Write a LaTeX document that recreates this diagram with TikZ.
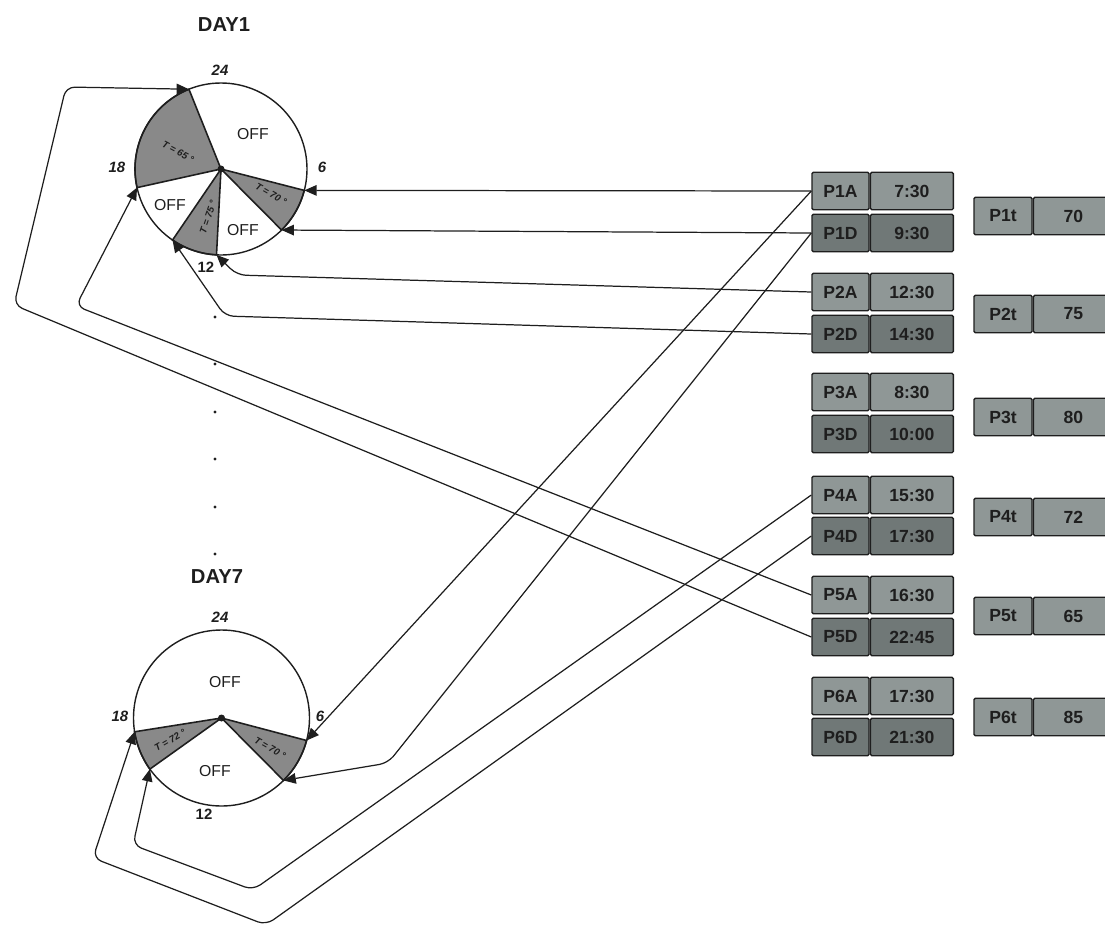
\documentclass[tikz,border=0pt]{standalone}
\usepackage{fontspec}
\setmainfont{Liberation Sans}
\setsansfont{Liberation Sans}
\usetikzlibrary{arrows.meta,positioning}

\definecolor{boxlight}{RGB}{143,151,150}
\definecolor{boxdark}{RGB}{112,120,119}
\definecolor{sectorgray}{RGB}{137,137,137}
\definecolor{inkgray}{RGB}{30,30,30}

\begin{document}
\begin{tikzpicture}[x=0.02cm, y=0.02cm,
                    every node/.style={font=\sffamily, text=inkgray},
                    cell/.style={draw=inkgray, line width=0.8pt, rounded corners=0.8pt, minimum height=0.75cm,
                                 inner sep=0pt, font=\sffamily\bfseries\fontsize{10}{12}\selectfont},
                    aname/.style={cell, fill=boxlight, minimum width=1.14cm},
                    atime/.style={cell, fill=boxlight, minimum width=1.66cm},
                    dname/.style={cell, fill=boxdark, minimum width=1.14cm},
                    dtime/.style={cell, fill=boxdark, minimum width=1.66cm},
                    tname/.style={cell, fill=boxlight, minimum width=1.16cm},
                    tval/.style={cell, fill=boxlight, minimum width=1.6cm},
                    dial/.style={draw=inkgray, line width=0.8pt},
                    sector/.style={draw=inkgray, line width=0.9pt, fill=sectorgray},
                    daytitle/.style={font=\sffamily\bfseries\fontsize{11.5}{14}\selectfont},
                    hour/.style={font=\sffamily\bfseries\itshape\fontsize{8.5}{10}\selectfont, inner sep=0pt},
                    hourup/.style={font=\sffamily\bfseries\fontsize{8.5}{10}\selectfont, inner sep=0pt},
                    offlbl/.style={font=\sffamily\fontsize{9}{11}\selectfont},
                    templbl/.style={font=\sffamily\bfseries\itshape\fontsize{5.5}{6}\selectfont, inner sep=0pt},
                    arr/.style={draw=inkgray, line width=0.7pt, rounded corners=5pt,
                                -{Triangle[length=7pt,width=6pt]}}]

    \useasboundingbox (0,0) rectangle (1105,-927);

    % Day 1 dial
    \coordinate (c1) at (221,-169);
    \node[daytitle] (day1) at (224,-25) {DAY1};
    \filldraw[sector] (c1) -- +(111.9:86) arc[start angle=111.9, end angle=192.5, radius=86] -- cycle; % P5
    \filldraw[sector] (c1) -- +(-14.4:86) arc[start angle=-14.4, end angle=-45.2, radius=86] -- cycle; % P1
    \filldraw[sector] (c1) -- +(-93:86) arc[start angle=-93, end angle=-124.3, radius=86] -- cycle; % P2
    \draw[dial] (c1) circle[radius=86];
    \fill[inkgray] (c1) circle[radius=3.5];
    \path (c1) ++(-14.4:86) coordinate (d1a);
    \path (c1) ++(-45.2:86) coordinate (d1b);
    \path (c1) ++(-93:86) coordinate (d1c);
    \path (c1) ++(-124.3:86) coordinate (d1d);
    \path (c1) ++(192.5:86) coordinate (d1e);
    \path (c1) ++(111.9:86) coordinate (d1f);

    \node[hour] (h1top) at (220,-70) {24};
    \node[hour] (h1right) at (322,-167) {6};
    \node[hour] (h1left) at (117,-167) {18};
    \node[hourup] (h1bot) at (206,-267) {12};
    \node[offlbl] (off1a) at (253,-134) {OFF};
    \node[offlbl] (off1b) at (170,-205) {OFF};
    \node[offlbl] (off1c) at (243,-230) {OFF};
    \node[templbl, rotate=-28] (t1a) at (178,-152) {T = 65 °};
    \node[templbl, rotate=-30] (t1b) at (271,-194) {T = 70 °};
    \node[templbl, rotate=71] (t1c) at (208,-217) {T = 75 °};

    % days in between
    \foreach \y in {317,364,412,459,507,554}
        \fill[inkgray] (215,-\y) circle[radius=1.6];

    % Day 7 dial
    \coordinate (c7) at (221.5,-718);
    \node[daytitle] (day7) at (217,-577) {DAY7};
    \filldraw[sector] (c7) -- +(189:88) arc[start angle=189, end angle=215.5, radius=88] -- cycle; % P4
    \filldraw[sector] (c7) -- +(-14.8:88) arc[start angle=-14.8, end angle=-45.2, radius=88] -- cycle; % P1
    \draw[dial] (c7) circle[radius=88];
    \fill[inkgray] (c7) circle[radius=3.5];
    \path (c7) ++(-14.8:88) coordinate (d7a);
    \path (c7) ++(-45.2:88) coordinate (d7b);
    \path (c7) ++(215.5:88) coordinate (d7c);
    \path (c7) ++(189:88) coordinate (d7d);

    \node[hour] (h7top) at (220,-617) {24};
    \node[hour] (h7right) at (320,-716) {6};
    \node[hour] (h7left) at (120,-716) {18};
    \node[hourup] (h7bot) at (204,-814) {12};
    \node[offlbl] (off7a) at (225,-682) {OFF};
    \node[offlbl] (off7b) at (215,-771) {OFF};
    \node[templbl, rotate=30] (t7a) at (170,-740) {T = 72 °};
    \node[templbl, rotate=-30] (t7b) at (270,-748) {T = 70 °};

    % arrival / departure times
    \node[aname] (p1a) at (840.5,-191) {P1A};
    \node[atime, right=0pt of p1a] (p1at) {7:30};
    \node[dname] (p1d) at (840.5,-233) {P1D};
    \node[dtime, right=0pt of p1d] (p1dt) {9:30};
    \node[aname] (p2a) at (840.5,-292) {P2A};
    \node[atime, right=0pt of p2a] (p2at) {12:30};
    \node[dname] (p2d) at (840.5,-334) {P2D};
    \node[dtime, right=0pt of p2d] (p2dt) {14:30};
    \node[aname] (p3a) at (840.5,-392) {P3A};
    \node[atime, right=0pt of p3a] (p3at) {8:30};
    \node[dname] (p3d) at (840.5,-434) {P3D};
    \node[dtime, right=0pt of p3d] (p3dt) {10:00};
    \node[aname] (p4a) at (840.5,-495) {P4A};
    \node[atime, right=0pt of p4a] (p4at) {15:30};
    \node[dname] (p4d) at (840.5,-536) {P4D};
    \node[dtime, right=0pt of p4d] (p4dt) {17:30};
    \node[aname] (p5a) at (840.5,-595) {P5A};
    \node[atime, right=0pt of p5a] (p5at) {16:30};
    \node[dname] (p5d) at (840.5,-637) {P5D};
    \node[dtime, right=0pt of p5d] (p5dt) {22:45};
    \node[aname] (p6a) at (840.5,-696) {P6A};
    \node[atime, right=0pt of p6a] (p6at) {17:30};
    \node[dname] (p6d) at (840.5,-737) {P6D};
    \node[dtime, right=0pt of p6d] (p6dt) {21:30};

    % temperatures
    \node[tname] (p1t) at (1003,-216) {P1t};
    \node[tval, right=0pt of p1t] (p1tv) {70};
    \node[tname] (p2t) at (1003,-314) {P2t};
    \node[tval, right=0pt of p2t] (p2tv) {75};
    \node[tname] (p3t) at (1003,-417) {P3t};
    \node[tval, right=0pt of p3t] (p3tv) {80};
    \node[tname] (p4t) at (1003,-517) {P4t};
    \node[tval, right=0pt of p4t] (p4tv) {72};
    \node[tname] (p5t) at (1003,-616) {P5t};
    \node[tval, right=0pt of p5t] (p5tv) {65};
    \node[tname] (p6t) at (1003,-717) {P6t};
    \node[tval, right=0pt of p6t] (p6tv) {85};

    % connectors
    \draw[arr] (p1a.west) -- (d1a);
    \draw[arr] (p1d.west) -- (d1b);
    \draw[arr] (p2a.west) -- (237,-275) -- (d1c);
    \draw[arr] (p2d.west) -- (225,-316) -- (d1d);
    \draw[arr] (p1a.west) -- (d7a);
    \draw[arr] (p1d.west) -- (388,-763) -- (d7b);
    \draw[arr] (p4a.west) -- (253,-890) -- (133,-845) -- (d7c);
    \draw[arr] (p4d.west) -- (266,-925) -- (93,-858) -- (d7d);
    \draw[arr] (p5a.west) -- (76,-306) -- (d1e);
    \draw[arr] (p5d.west) -- (14,-305) -- (66,-87) -- (d1f);
\end{tikzpicture}
\end{document}
